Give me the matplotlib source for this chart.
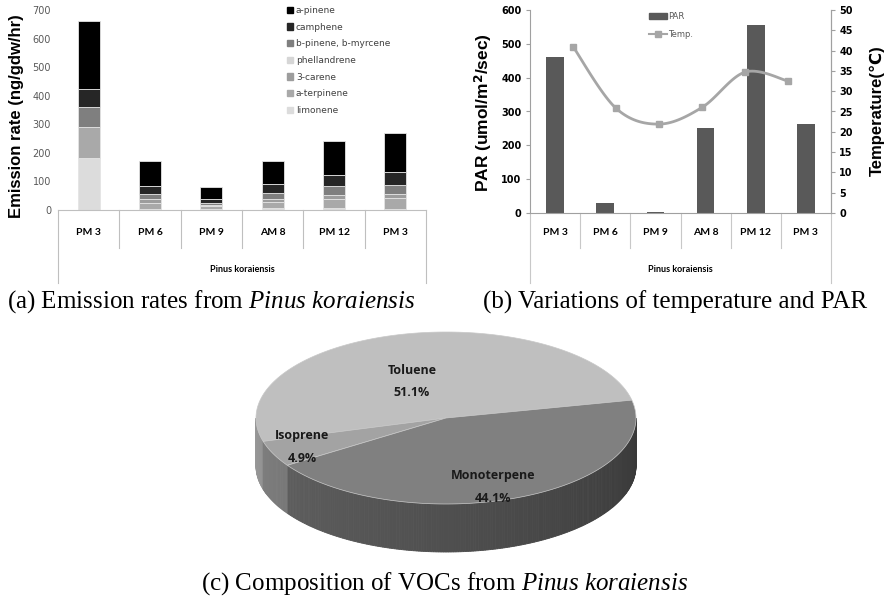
import numpy as np
import matplotlib
matplotlib.use("Agg")
import matplotlib.pyplot as plt
import matplotlib.transforms as mtransforms
from matplotlib.patches import Polygon, Patch
from matplotlib.lines import Line2D

plt.rcParams['mathtext.fontset'] = 'custom'
plt.rcParams['mathtext.rm'] = 'Liberation Serif'
plt.rcParams['mathtext.it'] = 'Liberation Serif:italic'

times = ['PM 3', 'PM 6', 'PM 9', 'AM 8', 'PM 12', 'PM 3']

# monoterpene emission rates (ng/gdw/hr), listed bottom to top of the stack
limonene = [181, 3, 5, 7, 8, 4]
a_terpinene = [108, 22, 8, 20, 30, 38]
carene = [0, 12, 4, 10, 14, 14]
phellandrene = [0, 0, 0, 0, 0, 0]
b_pinene = [70, 19, 8, 21, 32, 32]
camphene = [63, 29, 13, 32, 38, 44]
a_pinene = [240, 85, 42, 80, 118, 136]

par = [461, 30, 3, 250, 557, 262]
temp = [41.0, 25.8, 21.9, 26.0, 34.7, 32.5]

voc_names = ['Toluene', 'Isoprene', 'Monoterpene']
voc_share = [51.1, 4.9, 44.1]

W, H = 888, 599
fig = plt.figure(figsize=(W / 100, H / 100), dpi=100)


def px_axes(x0, y0, x1, y1):
    return fig.add_axes([x0 / W, 1 - y1 / H, (x1 - x0) / W, (y1 - y0) / H])


def category_frame(ax, sep_depth, box_depth, color='#bfbfbf'):
    trans = mtransforms.blended_transform_factory(ax.transData, ax.transAxes)
    for xb in np.arange(-0.5, 6):
        d = box_depth if xb in (-0.5, 5.5) else sep_depth
        ax.plot([xb, xb], [0, d], transform=trans, color=color, lw=0.8,
                clip_on=False)


def smooth(xs, ys, n=24):
    # Catmull-Rom path through the points, like a spreadsheet "smoothed line"
    pts = np.column_stack([xs, ys])
    p = np.vstack([pts[0], pts, pts[-1]])
    out = []
    for i in range(1, len(p) - 2):
        p0, p1, p2, p3 = p[i - 1], p[i], p[i + 1], p[i + 2]
        t = np.linspace(0, 1, n, endpoint=False)[:, None]
        out.append(0.5 * (2 * p1 + (p2 - p0) * t
                          + (2 * p0 - 5 * p1 + 4 * p2 - p3) * t ** 2
                          + (3 * p1 - p0 - 3 * p2 + p3) * t ** 3))
    out.append(pts[-1:])
    s = np.vstack(out)
    return s[:, 0], s[:, 1]


x = np.arange(len(times))

# ---- (a) stacked emission rates ----
ax = px_axes(58, 10, 426, 210)
species = [('limonene', limonene, '#dcdcdc'),
           ('a-terpinene', a_terpinene, '#a9a9a9'),
           ('3-carene', carene, '#9d9d9d'),
           ('phellandrene', phellandrene, '#d6d6d6'),
           ('b-pinene, b-myrcene', b_pinene, '#7f7f7f'),
           ('camphene', camphene, '#262626'),
           ('a-pinene', a_pinene, '#000000')]
bottom = np.zeros(len(times))
for name, vals, col in species:
    ax.bar(x, vals, 0.36, bottom=bottom, color=col, edgecolor='#e4e4e4',
           linewidth=0.6)
    bottom += np.array(vals)

ax.set_xlim(-0.5, 5.5)
ax.set_ylim(0, 700)
ax.set_yticks(range(0, 701, 100))
ax.tick_params(axis='y', length=0, labelsize=7, labelcolor='#595959', pad=5)
ax.set_xticks([])
for side in ['top', 'right', 'left']:
    ax.spines[side].set_visible(False)
ax.spines['bottom'].set_color('#bfbfbf')
category_frame(ax, -0.19, -0.365)
for xi, lab in zip(x, times):
    ax.text(xi, -0.115, lab, transform=ax.get_xaxis_transform(), ha='center',
            va='center', fontsize=7.5, fontweight='bold', family='Lato')
ax.text(0.5, -0.30, 'Pinus koraiensis', transform=ax.transAxes, ha='center',
        va='center', fontsize=6.5, fontweight='bold', family='Lato')
fig.text(17 / W, 1 - 116 / H, 'Emission rate (ng/gdw/hr)', rotation=90,
         ha='center', va='center', fontsize=12, fontweight='bold',
         family='Liberation Sans')

leg_handles = [Patch(color=col) for _, _, col in species[::-1]]
leg_labels = [name for name, _, _ in species[::-1]]
leg = ax.legend(leg_handles, leg_labels, loc='upper left',
                bbox_to_anchor=(0.622, 1.02), frameon=False, fontsize=6.5,
                handlelength=0.7, handleheight=0.7, handletextpad=0.3,
                labelspacing=0.85, borderpad=0, borderaxespad=0)
for t in leg.get_texts():
    t.set_color('#404040')

# ---- (b) PAR and temperature ----
bx = px_axes(530, 10, 831, 213)
bx.bar(x, par, 0.35, color='#595959')
bx.set_xlim(-0.5, 5.5)
bx.set_ylim(0, 600)
bx.set_yticks(range(0, 601, 100))
bx.set_xticks([])
bx.tick_params(axis='y', length=3, color='#a0a0a0', labelsize=7, pad=3)
for lab in bx.get_yticklabels():
    lab.set_fontweight('bold')
bx.spines['top'].set_visible(False)
for side in ['left', 'bottom', 'right']:
    bx.spines[side].set_color('#a0a0a0')

tx = bx.twinx()
tx.set_ylim(0, 50)
tx.set_yticks(range(0, 51, 5))
tx.tick_params(axis='y', length=3, color='#a0a0a0', labelsize=7, pad=3)
for lab in tx.get_yticklabels():
    lab.set_fontweight('bold')
for side in ['top', 'bottom', 'left']:
    tx.spines[side].set_visible(False)
tx.spines['right'].set_color('#a0a0a0')

# temperature sits on its own category scale (7 divisions across the plot)
x_temp = -0.5 + np.arange(1, len(temp) + 1) * 6 / 7
sx, sy = smooth(x_temp, temp)
tx.plot(sx, sy, color='#a6a6a6', lw=2)
tx.plot(x_temp, temp, 's', color='#a6a6a6', ms=5)

category_frame(bx, -0.172, -0.345, color='#c8c8c8')
for xi, lab in zip(x, times):
    bx.text(xi, -0.094, lab, transform=bx.get_xaxis_transform(), ha='center',
            va='center', fontsize=7.5, fontweight='bold', family='Lato')
bx.text(0.5, -0.28, 'Pinus koraiensis', transform=bx.transAxes, ha='center',
        va='center', fontsize=6.5, fontweight='bold', family='Lato')
fig.text(483 / W, 1 - 113 / H, 'PAR (umol/m$^\\mathbf{2}$/sec)', rotation=90,
         ha='center', va='center', fontsize=12.5, fontweight='bold',
         family='Liberation Sans')
fig.text(877 / W, 1 - 111 / H, 'Temperature(℃)', rotation=90,
         ha='center', va='center', fontsize=12, fontweight='bold',
         family=['Liberation Sans', 'DejaVu Sans'])

b_handles = [Patch(color='#595959'),
             Line2D([], [], color='#a6a6a6', lw=1.5, marker='s', ms=4)]
bleg = bx.legend(b_handles, ['PAR', 'Temp.'], loc='upper left',
                 bbox_to_anchor=(0.395, 0.99), frameon=False, fontsize=6,
                 handlelength=2.2, handleheight=0.6, handletextpad=0.1,
                 labelspacing=1.1, borderpad=0, borderaxespad=0)
for t in bleg.get_texts():
    t.set_color('#595959')

# ---- (c) VOC composition as a tilted pie ----
px = px_axes(240, 320, 660, 565)
px.set_xlim(240, 660)
px.set_ylim(565, 320)
px.axis('off')

cx, cy, ra, rb, dep = 446, 418, 190, 86, 48
start = 12.0
share = np.array(voc_share)
edges = start + np.concatenate([[0], np.cumsum(share)]) / share.sum() * 360
top_cols = [0.75, 0.64, 0.50]


def rim(t):
    r = np.radians(t)
    return cx + ra * np.cos(r), cy - rb * np.sin(r)


def slice_of(t):
    for tt in (t, t + 360):
        for k in range(len(share)):
            if edges[k] <= tt < edges[k + 1]:
                return k
    return len(share) - 1


ts = np.linspace(180, 360, 241)
for t0, t1 in zip(ts[:-1], ts[1:]):
    k = slice_of((t0 + t1) / 2)
    g = top_cols[k] * (0.80 - 0.36 * ((t0 + t1) / 2 - 180) / 180)
    x0, y0 = rim(t0)
    x1, y1 = rim(t1)
    px.add_patch(Polygon([(x0, y0), (x1, y1), (x1, y1 + dep), (x0, y0 + dep)],
                         closed=True, facecolor=(g, g, g), edgecolor=(g, g, g),
                         lw=0.6))

for k in range(len(share)):
    tt = np.linspace(edges[k], edges[k + 1], 120)
    ex, ey = rim(tt)
    g = top_cols[k]
    px.add_patch(Polygon(np.column_stack([np.r_[cx, ex], np.r_[cy, ey]]),
                         closed=True, facecolor=(g, g, g),
                         edgecolor='#c8c8c8', lw=0.5))

label_pos = [(412, 370), (302, 435), (493, 475)]
for name, val, (lx, ly) in zip(voc_names, voc_share, label_pos):
    px.text(lx, ly, name, ha='center', va='center', fontsize=9,
            fontweight='bold', family='Open Sans', color='#1a1a1a')
    px.text(lx, ly + 23, f'{val:.1f}%', ha='center', va='center', fontsize=9,
            fontweight='bold', family='Open Sans', color='#1a1a1a')

# ---- captions ----
cap = dict(fontsize=18, family='Liberation Serif', va='center')
fig.text(7 / W, 1 - 302 / H,
         r'(a) Emission rates from $\mathit{Pinus\ koraiensis}$', **cap)
fig.text(483 / W, 1 - 302 / H, '(b) Variations of temperature and PAR', **cap)
fig.text(445 / W, 1 - 584 / H,
         r'(c) Composition of VOCs from $\mathit{Pinus\ koraiensis}$',
         ha='center', **cap)

fig.savefig('out.png', dpi=100)
